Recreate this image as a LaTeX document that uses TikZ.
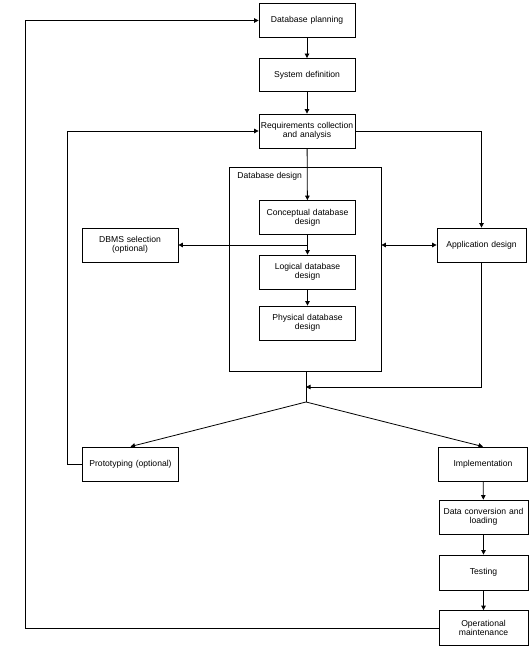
\documentclass[tikz,border=0pt]{standalone}
\usepackage{fontspec}
\setmainfont{Liberation Sans}
\usetikzlibrary{arrows.meta,calc}
\begin{document}
\begin{tikzpicture}[x=1pt,y=-1pt,
  line width=0.8pt,
  box/.style={draw,rectangle,inner sep=0pt,minimum height=34pt,align=center,
    font=\fontsize{8.6}{9.4}\selectfont},
  mainbox/.style={box,minimum width=96pt,text width=96pt},
  rbox/.style={box,minimum width=89pt,text width=89pt},
  arr/.style={-{Triangle[length=4.5pt,width=4.5pt]}},
  darr/.style={{Triangle[length=4.5pt,width=4.5pt]}-{Triangle[length=4.5pt,width=4.5pt]}}
]
\useasboundingbox (0,0) rectangle (529,647);
% container
\node[draw,rectangle,inner sep=0pt,minimum width=152pt,minimum height=204pt] (dbd) at (305,269) {};
\node[anchor=west,inner sep=0pt,font=\fontsize{8.6}{9.4}\selectfont] (dbdl) at (237,176) {Database design};
% main column
\node[mainbox] (plan) at (307,20.5) {Database planning};
\node[mainbox,minimum height=33pt] (sysdef) at (307,75) {System definition};
\node[mainbox] (req) at (307,131) {Requirements collection\\and analysis};
\node[mainbox] (concept) at (307.5,217.5) {Conceptual database\\design};
\node[mainbox] (logical) at (307.5,272) {Logical database\\design};
\node[mainbox] (physical) at (307.5,323) {Physical database\\design};
% side boxes
\node[mainbox] (dbms) at (130,245) {DBMS selection\\(optional)};
\node[rbox] (app) at (481.5,245) {Application design};
\node[mainbox] (proto) at (130.5,464) {Prototyping (optional)};
\node[rbox] (impl) at (483,464) {Implementation};
\node[rbox] (conv) at (483.5,517) {Data conversion and\\loading};
\node[rbox,minimum height=35pt] (test) at (483.5,572.5) {Testing};
\node[rbox,minimum height=35pt] (oper) at (483.5,628) {Operational\\maintenance};
% junction coordinates
\coordinate (jd) at (307.5,245);
\coordinate (jm) at (306,387);
\coordinate (jb) at (306,402);
\coordinate (lp) at (67,464);
\coordinate (lo) at (25.4,628);
% connectors
\draw[arr] (plan) -- (sysdef);
\draw[arr] (sysdef) -- (req);
\draw[arr] (req) -- (concept);
\draw[arr] (concept) -- (logical);
\draw[arr] (logical) -- (physical);
\draw[arr] (jd) -- (dbms.east);
\draw[darr] (dbd.east |- app.west) -- (app.west);
\draw[arr] (req.east) -| (app.north);
\draw[arr] (app.south) |- (jm);
\draw (dbd.south -| jb) -- (jb);
\draw[arr] (jb) -- (proto.north);
\draw[arr] (jb) -- (impl.north);
\draw[arr] (proto.west) -- (lp) |- (req.west);
\draw[arr] (impl) -- (conv);
\draw[arr] (conv) -- (test);
\draw[arr] (test) -- (oper);
\draw[arr] (oper.west) -- (lo) |- (plan.west);
\end{tikzpicture}
\end{document}
